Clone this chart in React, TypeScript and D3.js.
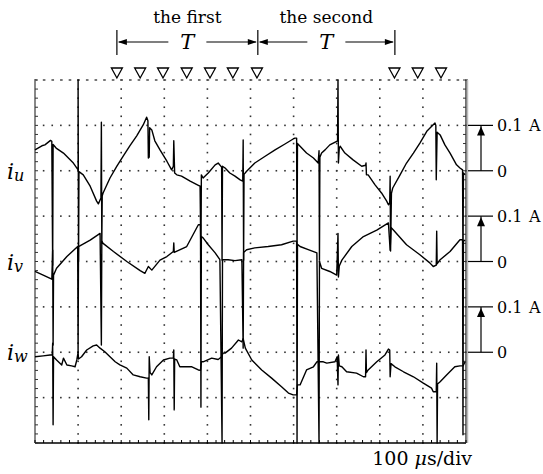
import React from 'react';
import * as d3 from 'd3';

const W = 543;
const H = 474;

// screen: 10 div x 100 us, 8 div vertical, 0.1 A per div
const timeTicks = d3.range(0, 1001, 100);
const minorTime = d3.range(0, 1001, 20);
const divTicks = d3.range(0, 9);
const minorDiv = d3.range(0, 8.01, 0.2);

const traceNames = ['u', 'v', 'w'];
const zeroDiv = [6, 4, 2];

// [time us, current mA]
const iuTrace: [number, number][] = [
  [0, 46], [16, 55], [23, 57], [36, 67], [39, 65], [41, -208], [42, 58], [49, 50], [66, 39], [89, 17],
  [100, 2], [100, 200], [101, -200], [102, -2], [112, -9], [128, -34], [143, -67], [147, -73], [153, -60],
  [154, 107], [155, -159], [156, -55], [158, -49], [174, -16], [190, 10], [205, 33], [220, 55], [236, 77],
  [251, 101], [259, 118], [262, 110], [263, 28], [265, 30], [266, 95], [271, 90], [278, 66], [290, 46],
  [306, 21], [317, 2], [321, 10], [322, 66], [324, -5], [329, -9], [340, -12], [360, -23], [379, -32],
  [383, -34], [385, -197], [386, -9], [390, -16], [402, -5], [418, 13], [425, 17], [433, 8], [434, -197],
  [435, 10], [441, 6], [452, -5], [464, -12], [476, -20], [482, -23], [483, 68], [484, -197], [485, -8],
  [491, -1], [510, 17], [534, 32], [557, 46], [580, 59], [599, 70], [603, 72], [607, 72], [608, -197],
  [609, 60], [615, 54], [630, 39], [646, 28], [657, 17], [659, 44], [660, -197], [661, 30], [665, 39],
  [673, 46], [684, 57], [700, 65], [702, 66], [703, 200], [704, 17], [706, 50], [708, 54], [719, 39],
  [738, 24], [758, 10], [767, 12], [768, 17], [769, -9], [773, -9], [789, -31], [804, -49], [816, -67],
  [820, -75], [823, -70], [824, -12], [825, -177], [827, -50], [830, -38], [847, -9], [862, 17], [878, 39],
  [893, 61], [909, 87], [928, 105], [930, 100], [931, -20], [933, 85], [940, 79], [951, 57], [963, 39],
  [978, 13], [986, 6], [992, 2], [993, -201], [994, -5], [998, -9],
];

const ivTrace: [number, number][] = [
  [0, -22], [19, -30], [39, -39], [41, 25], [42, -184], [43, -30], [50, -15], [74, 11], [99, 33], [100, -200],
  [101, 33], [128, 47], [151, 62], [154, -184], [155, 45], [158, 40], [182, 22], [213, 0], [244, -20],
  [255, -26], [263, -11], [271, -19], [290, 3], [306, 11], [321, 22], [322, 41], [323, 20], [352, 33],
  [379, 81], [384, 81], [385, -321], [386, 55], [390, 52], [402, 37], [418, 19], [429, 4], [434, -400],
  [435, 4], [448, 4], [464, 2], [480, 4], [483, -191], [484, 20], [491, 26], [510, 30], [541, 33], [572, 37],
  [599, 45], [607, 45], [608, -400], [609, 38], [615, 33], [634, 26], [654, 19], [659, -400], [660, 0],
  [665, -15], [684, -22], [700, -30], [703, 62], [704, -34], [706, -10], [712, 3], [735, 33], [762, 55],
  [793, 69], [820, 85], [824, 25], [826, 75], [831, 70], [862, 37], [893, 15], [916, -3], [924, -11],
  [931, -8], [932, 67], [933, -5], [940, 4], [963, 22], [986, 48], [992, 48], [993, -382], [994, 45], [998, 47],
];

const iwTrace: [number, number][] = [
  [0, -10], [19, -8], [35, -6], [40, -6], [41, 20], [42, -160], [43, -10], [50, -17], [62, -28], [66, -13],
  [74, -28], [85, -30], [93, -32], [97, -17], [100, 0], [101, -15], [108, -10], [120, 5], [135, 14], [143, 16],
  [151, 9], [162, 1], [174, -10], [186, -21], [197, -28], [213, -35], [228, -50], [244, -54], [259, -57],
  [263, -57], [264, -149], [265, -10], [267, -45], [271, -50], [282, -32], [298, -17], [313, -13], [321, -13],
  [322, 5], [323, -127], [324, -15], [329, -17], [336, -32], [364, -32], [379, -39], [384, -40], [386, -21],
  [390, -21], [410, -13], [425, -16], [433, -10], [436, -2], [441, -2], [456, 9], [472, 27], [480, 23],
  [483, 30], [488, 9], [503, -17], [526, -39], [549, -57], [572, -76], [588, -90], [599, -94], [607, -94],
  [609, -72], [615, -72], [630, -39], [646, -32], [654, -21], [669, -21], [677, -24], [696, -21], [701, -10],
  [703, -72], [704, -6], [706, -30], [712, -32], [723, -43], [746, -46], [762, -54], [767, -54], [768, 5],
  [769, -45], [773, -39], [793, -21], [812, -6], [820, 7], [823, 5], [824, -54], [826, -25], [835, -32],
  [855, -43], [878, -54], [901, -68], [920, -79], [924, -87], [931, -87], [932, -24], [933, -200], [934, -70],
  [940, -65], [955, -50], [974, -32], [986, -30], [993, -30], [998, -21],
];

const markerTimes = [190, 244, 297, 352, 406, 459, 515, 834, 888, 942];
const periodBounds = [190, 517, 835];
const periodLabels = ['the first', 'the second'];
const scaleLabels = ['0.1', '0'];
const timebaseLabel = '100';

const serif = "'DejaVu Serif', 'Liberation Serif', serif";

export default function App() {
  const x = d3.scaleLinear().domain([0, 1000]).range([35, 466]);
  const y = d3.scaleLinear().domain([0, 8]).range([443, 80]);
  const traces = [iuTrace, ivTrace, iwTrace];

  const lineFor = (zero: number) =>
    d3.line<[number, number]>()
      .x(d => x(d[0]))
      .y(d => y(zero + d[1] / 100));

  const arrowY = 42;

  return (
    <svg width={W} height={H} style={{ position: 'absolute', left: 0, top: 0, background: '#fff' }}
      fontFamily={serif}>
      <rect x={0} y={0} width={W} height={H} fill="#fff" />

      {/* grid dots */}
      {timeTicks.slice(1, -1).map(t =>
        minorDiv.map(dv => (
          <rect key={'v' + t + '-' + dv} x={x(t) - 0.8} y={y(dv) - 0.8} width={1.6} height={1.6} fill="#333" />
        )))}
      {divTicks.slice(1).map(dv =>
        minorTime.map(t => (
          <rect key={'h' + t + '-' + dv} x={x(t) - 0.8} y={y(dv) - 0.8} width={dv === 8 ? 2.6 : 1.6}
            height={1.6} fill={dv === 8 ? '#555' : '#333'} />
        )))}

      {/* frame */}
      <line x1={x(0)} x2={x(0)} y1={y(8)} y2={y(0)} stroke="#888" strokeWidth={2} />
      <line x1={x(1000)} x2={x(1000)} y1={y(8)} y2={y(0)} stroke="#222" strokeWidth={1.3} />
      <line x1={x(1000) + 1.5} x2={x(1000) + 1.5} y1={y(8)} y2={y(0)} stroke="#bbb" strokeWidth={1.5} />
      <line x1={x(0)} x2={x(1000)} y1={y(0)} y2={y(0)} stroke="#000" strokeWidth={1.5} />
      {minorTime.map(t => (
        <line key={'bt' + t} x1={x(t)} x2={x(t)} y1={y(0)} y2={y(0) - 3} stroke="#000" strokeWidth={1} />
      ))}
      {minorDiv.map(dv => (
        <g key={'st' + dv}>
          <line x1={x(0)} x2={x(0) + 3} y1={y(dv)} y2={y(dv)} stroke="#333" strokeWidth={1} />
          <line x1={x(1000)} x2={x(1000) - 3} y1={y(dv)} y2={y(dv)} stroke="#333" strokeWidth={1} />
        </g>
      ))}

      {/* traces */}
      {traces.map((tr, i) => (
        <path key={'tr' + i} d={lineFor(zeroDiv[i])(tr) || ''} fill="none" stroke="#000"
          strokeWidth={1.4} strokeLinejoin="round" />
      ))}

      {/* trace labels */}
      {traceNames.map((n, i) => (
        <text key={'lab' + n} x={7} y={y(zeroDiv[i]) + 8} fontSize={22} fontStyle="italic">
          i<tspan fontSize={16} dy={2}>{n}</tspan>
        </text>
      ))}

      {/* amplitude scale markers */}
      {zeroDiv.map((z, i) => {
        const top = y(z + 1);
        const bot = y(z);
        const ax = 481;
        return (
          <g key={'sc' + i}>
            <line x1={468} x2={493} y1={top} y2={top} stroke="#000" strokeWidth={1.2} />
            <line x1={468} x2={493} y1={bot} y2={bot} stroke="#000" strokeWidth={1.2} />
            <line x1={ax} x2={ax} y1={top} y2={bot} stroke="#000" strokeWidth={1.2} />
            <polygon points={`${ax},${top + 1} ${ax - 4},${top + 10} ${ax + 4},${top + 10}`} fill="#000" />
            <text x={497} y={top + 6} fontSize={16}>{scaleLabels[0]}</text>
            <text x={529} y={top + 6} fontSize={16}>A</text>
            <text x={497} y={bot + 6} fontSize={16}>{scaleLabels[1]}</text>
          </g>
        );
      })}

      {/* trigger markers */}
      {markerTimes.map(t => (
        <polygon key={'m' + t}
          points={`${x(t) - 5.5},${68} ${x(t) + 5.5},${68} ${x(t)},${78}`}
          fill="#fff" stroke="#000" strokeWidth={1.3} strokeLinejoin="miter" />
      ))}

      {/* period brackets */}
      {periodBounds.map(t => (
        <line key={'pb' + t} x1={x(t)} x2={x(t)} y1={30} y2={55} stroke="#000" strokeWidth={1.2} />
      ))}
      {periodLabels.map((lab, i) => {
        const a = x(periodBounds[i]);
        const b = x(periodBounds[i + 1]);
        const m = (a + b) / 2;
        return (
          <g key={'pl' + i}>
            <text x={m} y={23} fontSize={17} textAnchor="middle">{lab}</text>
            <line x1={a + 2} x2={m - 19} y1={arrowY} y2={arrowY} stroke="#000" strokeWidth={1.2} />
            <line x1={m + 19} x2={b - 2} y1={arrowY} y2={arrowY} stroke="#000" strokeWidth={1.2} />
            <polygon points={`${a + 1},${arrowY} ${a + 10},${arrowY - 3} ${a + 10},${arrowY + 3}`} fill="#000" />
            <polygon points={`${b - 1},${arrowY} ${b - 10},${arrowY - 3} ${b - 10},${arrowY + 3}`} fill="#000" />
            <text x={m} y={49} fontSize={21} fontStyle="italic" textAnchor="middle">T</text>
          </g>
        );
      })}

      {/* time base */}
      <text x={472} y={465} fontSize={19} textAnchor="end">
        {timebaseLabel}<tspan dx={6} fontStyle="italic">μ</tspan>s/div
      </text>
    </svg>
  );
}
